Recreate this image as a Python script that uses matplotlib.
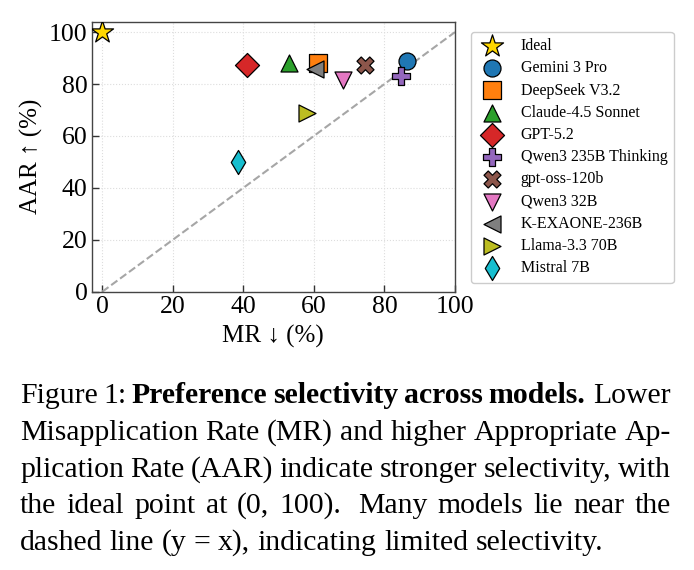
import matplotlib
matplotlib.use("Agg")
import matplotlib.pyplot as plt

W, H = 694, 570
SERIF = ["Liberation Serif", "DejaVu Serif"]

models = ["Ideal", "Gemini 3 Pro", "DeepSeek V3.2", "Claude-4.5 Sonnet", "GPT-5.2",
          "Qwen3 235B Thinking", "gpt-oss-120b", "Qwen3 32B", "K-EXAONE-236B",
          "Llama-3.3 70B", "Mistral 7B"]
mr = [0, 86.5, 61.2, 53.0, 40.9, 84.7, 74.4, 68.2, 60.4, 58.0, 38.5]
aar = [100, 89.0, 87.9, 87.9, 87.4, 82.9, 87.5, 81.6, 85.9, 68.9, 49.9]
markers = ["*", "o", "s", "^", "D", "P", "X", "v", "<", ">", "d"]
colors = ["#FFD700", "#1f77b4", "#ff7f0e", "#2ca02c", "#d62728", "#9467bd",
          "#8c564b", "#e377c2", "#7f7f7f", "#bcbd22", "#17becf"]
sizes = [280] + [150] * 10

xticks = [0, 20, 40, 60, 80, 100]
yticks = [0, 20, 40, 60, 80, 100]

caption = [
    [("Figure 1:", False), ("Preference selectivity across models.", True), ("Lower", False)],
    [("Misapplication Rate (MR) and higher Appropriate Ap-", False)],
    [("plication Rate (AAR) indicate stronger selectivity, with", False)],
    [("the ideal point at (0, 100). Many models lie near the", False)],
    [("dashed line (y = x), indicating limited selectivity.", False)],
]
baselines = [403.3, 440.0, 476.6, 513.0, 549.5]

plt.rcParams["font.family"] = SERIF

fig = plt.figure(figsize=(W / 100, H / 100), dpi=100)
ax = fig.add_axes([91.7 / W, 1 - 291.7 / H, (455 - 91.7) / W, 270 / H])

ax.plot([0, 100], [0, 100], ls="--", color="#a6a6a6", lw=1.5, zorder=1)
for name, x, y, m, c, s in zip(models, mr, aar, markers, colors, sizes):
    ax.scatter(x, y, marker=m, s=s, color=c, edgecolors="black", linewidths=0.9,
               label=name, zorder=3)

ax.set_xlim(-3, 100)
ax.set_ylim(0, 104)
ax.set_xticks(xticks)
ax.set_yticks(yticks)
ax.tick_params(direction="in", length=5, width=1, labelsize=18.5, pad=3,
               color="#333333")
ax.grid(True, ls=":", color="#dddddd", lw=0.8)
ax.set_axisbelow(True)
for sp in ax.spines.values():
    sp.set_color("#444444")
    sp.set_linewidth(1.0)

ax.set_xlabel("MR ↓ (%)", fontsize=18, labelpad=5)
ax.set_ylabel("AAR ↑ (%)", fontsize=18, labelpad=4)

ax.legend(loc="upper left", bbox_to_anchor=((471 - 91.7) / 363.3, (291.7 - 31.7) / 270),
          borderaxespad=0, fontsize=11.5, labelspacing=0.39, handlelength=1.8,
          handletextpad=0.9, borderpad=0.4, frameon=True, edgecolor="#cccccc",
          framealpha=1, fancybox=True, scatterpoints=1)

# caption, justified word by word
renderer = fig.canvas.get_renderer()
left, right = 20, 671


def line_words(segs):
    out = []
    for txt, bold in segs:
        for w in txt.split():
            out.append((w, bold))
    return out


def word_widths(words, size):
    res = []
    for w, b in words:
        t = fig.text(0, 0, w, fontsize=size, fontweight="bold" if b else "normal")
        res.append(t.get_window_extent(renderer).width)
        t.remove()
    return res


# fit the font size so the last (unjustified) line has its natural width
last = line_words(caption[-1])
trial = 16
ws = word_widths(last, trial)
nat = sum(ws) + (len(ws) - 1) * 0.25 * trial * 100 / 72
cap_size = trial * (603 - left) / nat

for i, (segs, yb) in enumerate(zip(caption, baselines)):
    words = line_words(segs)
    ws = word_widths(words, cap_size)
    weights = [1.6 if w.endswith(".") else 1.0 for w, _ in words[:-1]]
    if i < len(caption) - 1:
        unit = (right - left - sum(ws)) / sum(weights)
    else:
        unit = 0.25 * cap_size * 100 / 72
    x = left
    for (w, b), wd, k in zip(words, ws, weights + [0]):
        fig.text(x / W, 1 - yb / H, w, fontsize=cap_size,
                 fontweight="bold" if b else "normal", va="baseline", ha="left")
        x += wd + unit * k

fig.savefig("out.png", dpi=100)
